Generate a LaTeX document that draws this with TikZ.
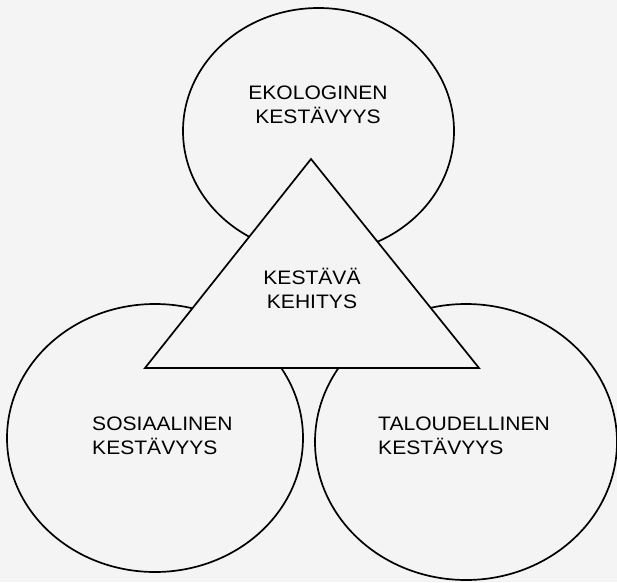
\documentclass[tikz,border=0pt]{standalone}
\usepackage{fontspec}
\setmainfont{Liberation Sans}
\usetikzlibrary{shapes.geometric}
\definecolor{paper}{rgb}{0.955,0.955,0.955}
\tikzset{
  ring/.style={ellipse, draw=black, fill=paper, line width=1.7pt, inner sep=0pt},
  lab/.style={font=\fontsize{19.5}{24}\selectfont, xscale=1.08, transform shape, inner sep=0pt, text=black},
}
\begin{document}
\begin{tikzpicture}[x=1pt,y=1pt]
\useasboundingbox[fill=paper] (0,0) rectangle (617,582);
\node[ring, minimum width=271pt, minimum height=246pt] (eko) at (318.5,451) {};
\node[ring, minimum width=296pt, minimum height=268pt] (sos) at (155,144) {};
\node[ring, minimum width=302pt, minimum height=276pt] (tal) at (466,140) {};
\coordinate (apex) at (311,423);
\coordinate (bl) at (145,214);
\coordinate (br) at (479,214);
\draw[fill=paper, line width=1.7pt, line join=miter] (apex) -- (bl) -- (br) -- cycle;
\node[lab, align=center] (tekoa) at (318,477.5) {EKOLOGINEN\\KESTÄVYYS};
\node[lab, align=center] (tkes) at (312,294) {KESTÄVÄ\\KEHITYS};
\node[lab, align=left, anchor=west] (tsos) at (92,146) {SOSIAALINEN\\KESTÄVYYS};
\node[lab, align=left, anchor=west] (ttal) at (378,146) {TALOUDELLINEN\\KESTÄVYYS};
\end{tikzpicture}
\end{document}
